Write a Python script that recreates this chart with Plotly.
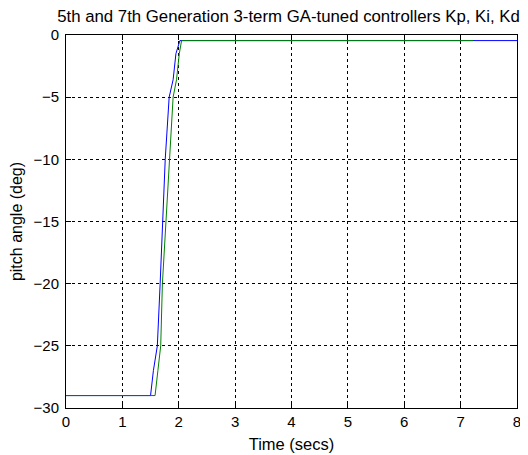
import plotly.graph_objects as go

# Blue controller response (time in secs, pitch angle in deg)
t_blue = [0, 1.50, 1.55, 1.62, 1.67, 1.71, 1.76, 1.83, 1.90, 1.95, 2.02, 7.2, 8.0]
y_blue = [-29, -29, -27, -25, -20, -15, -10, -5, -3.6, -1.5, -0.45, -0.45, -0.45]

# Green controller response
t_green = [0, 1.58, 1.63, 1.68, 1.71, 1.77, 1.83, 1.90, 1.96, 2.01, 2.05, 7.22]
y_green = [-29, -29, -27, -25, -20, -15, -10, -5, -3.6, -1.5, -0.45, -0.45]

x_ticks = [0, 1, 2, 3, 4, 5, 6, 7, 8]
y_ticks = [0, -5, -10, -15, -20, -25, -30]

fig = go.Figure()
fig.add_trace(go.Scatter(x=t_blue, y=y_blue, mode="lines",
                         line=dict(color="#0000ff", width=1)))
fig.add_trace(go.Scatter(x=t_green, y=y_green, mode="lines",
                         line=dict(color="#008000", width=1)))

font = dict(family="Liberation Sans, Arial, sans-serif", size=15, color="black")

# page has an 8px body margin, so the figure is drawn 8px in and down
W, H = 520, 447
fig.update_layout(
    width=W, height=H,
    paper_bgcolor="white", plot_bgcolor="white",
    showlegend=False,
    margin=dict(l=58, r=11, t=27, b=47, autoexpand=False),
    font=font,
    title=dict(text="5th and 7th Generation 3-term GA-tuned controllers Kp, Ki, Kd",
               x=280.5 / W, xanchor="center", xref="container",
               y=1 - 8 / H, yref="container", yanchor="middle",
               font=dict(size=16.8, color="black")),
    xaxis=dict(range=[0, 8], tickvals=x_ticks, ticks="inside", ticklen=5,
               tickcolor="black", showline=True, linecolor="black", linewidth=1,
               mirror="ticks", showgrid=True, gridcolor="black", griddash="3px,3px",
               gridwidth=1, zeroline=False, automargin=False,
               title=dict(text="Time (secs)", standoff=9, font=dict(size=16.5)),
               tickfont=dict(size=15)),
    yaxis=dict(range=[-30, 0], tickvals=y_ticks, ticks="inside", ticklen=5,
               tickcolor="black", showline=True, linecolor="black", linewidth=1,
               mirror="ticks", showgrid=True, gridcolor="black", griddash="3px,3px",
               gridwidth=1, zeroline=False, automargin=False, ticklabelstandoff=3,
               title=dict(text="pitch angle (deg)", standoff=12, font=dict(size=16)),
               tickfont=dict(size=15)),
)

fig.write_html("out.html")
